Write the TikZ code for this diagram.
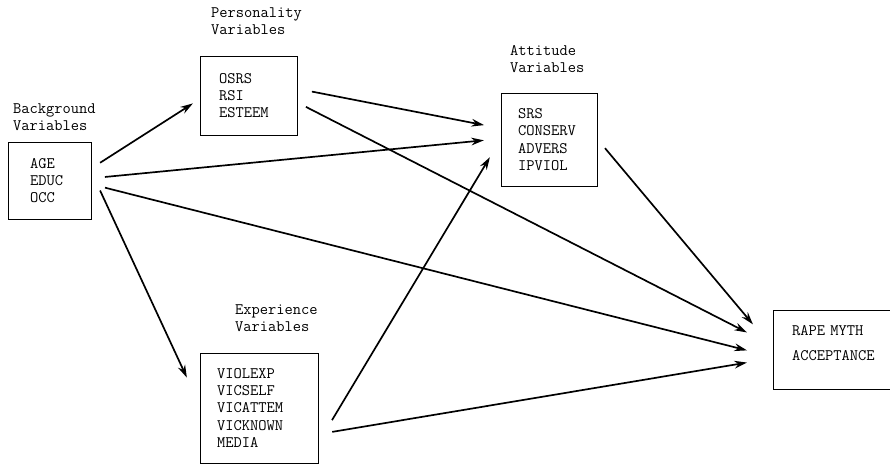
\documentclass[tikz,border=0pt]{standalone}
\usepackage{fontspec}
\usepackage{tikz}
\usetikzlibrary{arrows.meta,positioning}
\tikzset{
  varbox/.style={draw, line width=0.6pt, outer sep=0pt, inner ysep=0pt,
    align=left, font=\ttfamily\fontsize{11.4pt}{12.3pt}\selectfont},
  openbox/.style={varbox, draw=none},
  grouplabel/.style={inner sep=0pt, outer sep=0pt, align=left,
    font=\ttfamily\fontsize{11.4pt}{12.1pt}\selectfont},
  arrw/.style={-{Stealth[length=9pt, width=5.5pt]}, line width=1.2pt},
}

\begin{document}
\begin{tikzpicture}
  \useasboundingbox (0,0) rectangle (22.25,-11.675);
  \clip (0,0) rectangle (22.25,-11.675);

  \node[varbox, anchor=north west, text width=0.975cm, inner xsep=0.55cm,
    minimum height=1.925cm] (bg) at (0.2,-3.55)
    {AGE\\ EDUC\\ OCC};

  \node[varbox, above right=0.175cm and 2.725cm of bg, text width=1.475cm,
    inner xsep=0.475cm, minimum height=1.975cm] (pers)
    {OSRS\\ RSI\\ ESTEEM};

  \node[varbox, below right=3.35cm and 2.725cm of bg, text width=2.1cm,
    inner xsep=0.425cm, minimum height=2.75cm] (exp)
    {VIOLEXP\\ VICSELF\\ VICATTEM\\ VICKNOWN\\ MEDIA};

  \node[varbox, below right=0.925cm and 5.1cm of pers.north east, text width=1.55cm,
    inner xsep=0.425cm, minimum height=2.325cm] (att)
    {SRS\\ CONSERV\\ ADVERS\\ IPVIOL};

  % outcome box runs off the right edge of the page
  \node[openbox, below right=3.1cm and 4.4cm of att, text width=2.6cm,
    inner xsep=0.475cm, minimum height=1.975cm, text depth=0.95cm] (rape)
    {RAPE MYTH\\[5.5pt] ACCEPTANCE};
  \draw[line width=0.6pt] (rape.north east) -- (rape.north west)
    -- (rape.south west) -- (rape.south east);

  % group headings
  \node[grouplabel, above right=0.275cm and 0.125cm of bg.north west] (bglabel)
    {Background\\ Variables};
  \node[grouplabel, above right=0.525cm and 0.275cm of pers.north west] (perslabel)
    {Personality\\ Variables};
  \node[grouplabel, above right=0.5cm and 0.225cm of att.north west] (attlabel)
    {Attitude\\ Variables};
  \node[grouplabel, above right=0.525cm and 0.875cm of exp.north west] (explabel)
    {Experience\\ Variables};

  % paths
  \draw[arrw, shorten <=0.27cm, shorten >=0.21cm] (bg.16) -- (pers.184);
  \draw[arrw, shorten <=0.35cm, shorten >=0.43cm] (bg.3) -- (att.179);
  \draw[arrw, shorten <=0.36cm, shorten >=0.67cm] (bg.355) -- (rape.186);
  \draw[arrw, shorten <=0.54cm, shorten >=0.78cm] (bg.13) -- (exp.178);
  \draw[arrw, shorten <=0.38cm, shorten >=0.43cm] (pers.8) -- (att.167);
  \draw[arrw, shorten <=0.25cm, shorten >=0.73cm] (pers.352) -- (rape.177);
  \draw[arrw, shorten <=0.31cm, shorten >=0.78cm] (att.1) -- (rape.179);
  \draw[arrw, shorten <=0.68cm, shorten >=0.54cm] (exp.329) -- (att.179);
  \draw[arrw, shorten <=0.36cm, shorten >=0.66cm] (exp.336) -- (rape.187);
\end{tikzpicture}
\end{document}
